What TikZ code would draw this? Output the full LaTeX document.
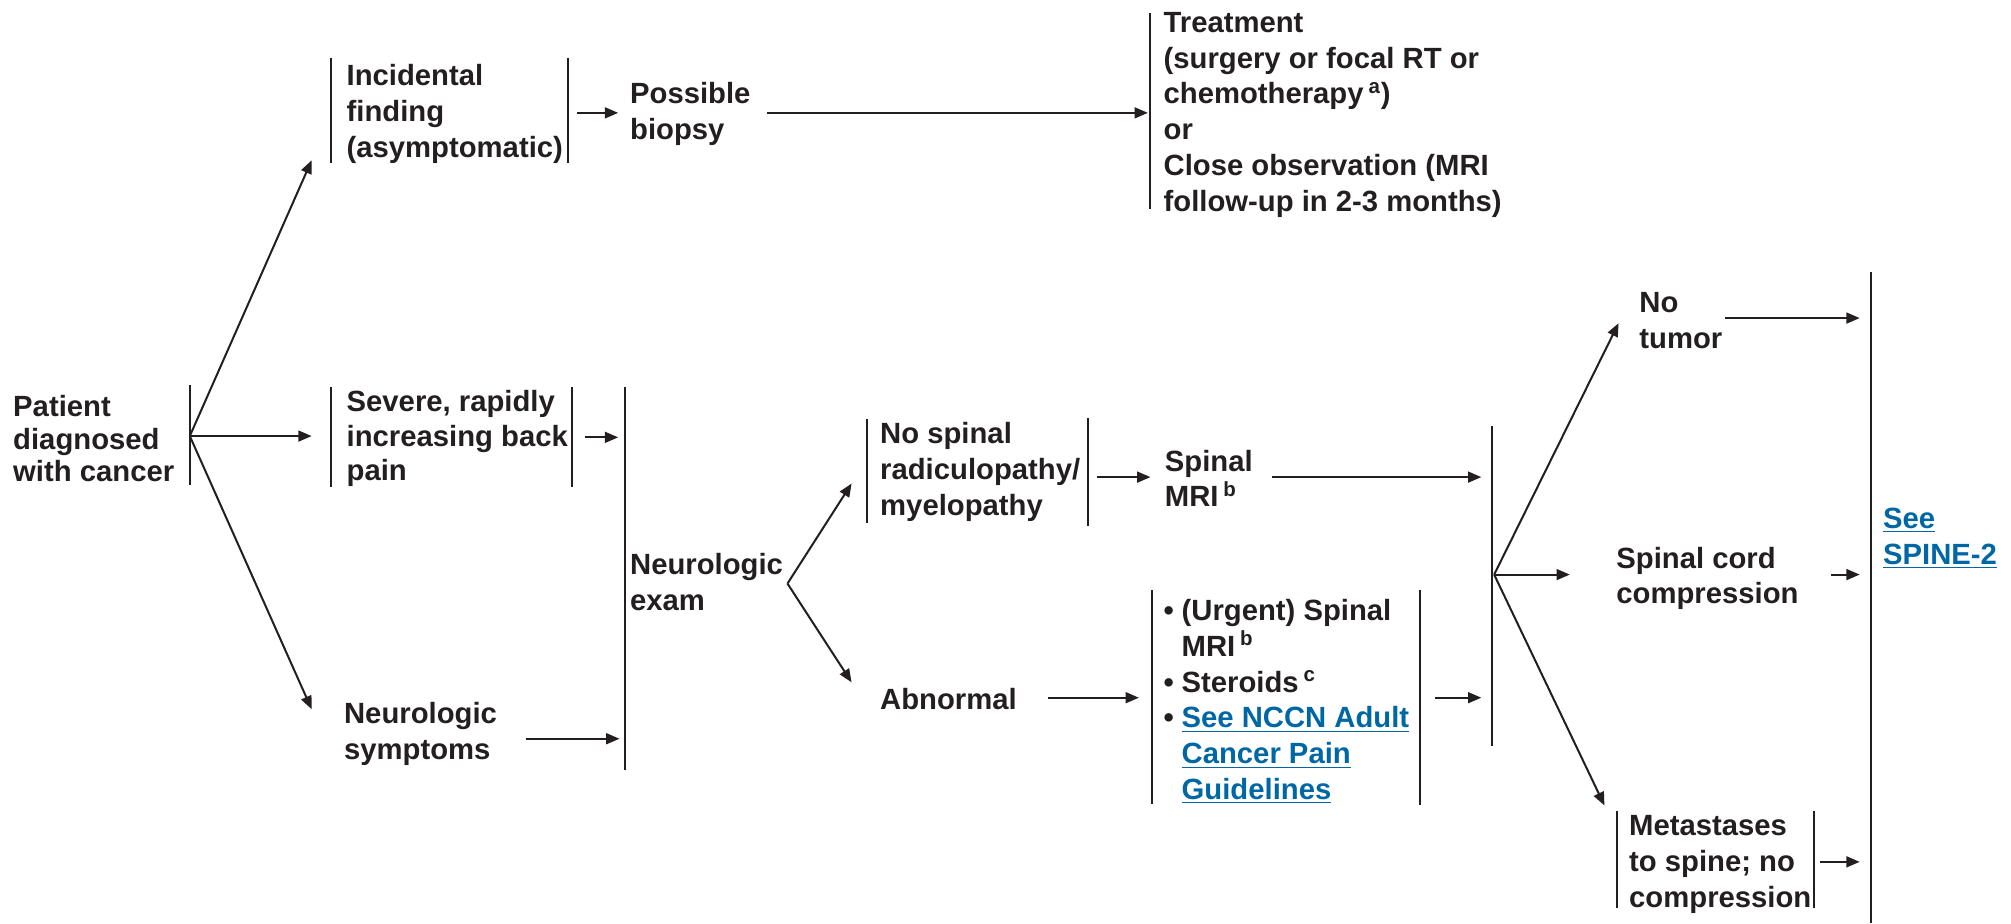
\documentclass[tikz,border=0pt]{standalone}
\usepackage{fontspec}
\setmainfont{Liberation Sans}
\usetikzlibrary{arrows.meta}
\definecolor{ink}{HTML}{231F20}
\definecolor{nccnblue}{RGB}{0,103,165}
\newcommand{\lnk}[1]{\textcolor{nccnblue}{\underline{#1}}}
\newcommand{\bul}{\makebox[9pt][l]{\textbullet}}
\newcommand{\ind}{\hspace*{9pt}}
\begin{document}
\begin{tikzpicture}[x=0.64pt,y=-0.64pt,
  txt/.style={anchor=west,align=left,inner sep=0pt,text=ink,
    font=\bfseries\fontsize{14.6pt}{17.9pt}\selectfont},
  bar/.style={draw=ink,line width=1pt},
  arr/.style={draw=ink,line width=1pt,-{Triangle[length=6.6pt,width=5.4pt]}}]
\useasboundingbox (0,0) rectangle (1568,720);

% ---- text nodes
\node[txt,font=\bfseries\fontsize{14.6pt}{16.4pt}\selectfont] (patient) at (10,342) {Patient\\diagnosed\\with cancer};
\node[txt] (inc) at (270,89) {Incidental\\finding\\(asymptomatic)};
\node[txt] (biopsy) at (491,89) {Possible\\biopsy};
\node[txt] (treat) at (907,89.5) {Treatment\\(surgery or focal RT or\\chemotherapy\,\textsuperscript{a})\\or\\Close observation (MRI\\follow-up in 2-3 months)};
\node[txt,font=\bfseries\fontsize{14.6pt}{17.2pt}\selectfont] (severe) at (270,342) {Severe, rapidly\\increasing back\\pain};
\node[txt] (neurosym) at (268,572) {Neurologic\\symptoms};
\node[txt] (exam) at (491,454) {Neurologic\\exam};
\node[txt] (nospinal) at (686,368) {No spinal\\radiculopathy/\\myelopathy};
\node[txt] (mri) at (908,373) {Spinal\\MRI\,\textsuperscript{b}};
\node[txt] (abnormal) at (686,545) {Abnormal};
\node[txt] (urgent) at (907,547) {\bul(Urgent) Spinal\\\ind MRI\,\textsuperscript{b}\\\bul Steroids\,\textsuperscript{c}\\\bul\lnk{See NCCN Adult}\\\ind\lnk{Cancer Pain}\\\ind\lnk{Guidelines}};
\node[txt] (notumor) at (1278,250) {No\\tumor};
\node[txt] (scc) at (1260,451) {Spinal cord\\compression};
\node[txt] (meta) at (1270,674) {Metastases\\to spine; no\\compression};
\node[txt] (spine2) at (1468,420) {\lnk{See}\\\lnk{SPINE-2}};

% ---- bars
\draw[bar] (148,300) -- (148,378);
\draw[bar] (258,45) -- (258,127);
\draw[bar] (443,45) -- (443,127);
\draw[bar] (258,302) -- (258,380);
\draw[bar] (446,302) -- (446,380);
\draw[bar] (897,10) -- (897,163);
\draw[bar] (487,302) -- (487,600);
\draw[bar] (676,327) -- (676,408);
\draw[bar] (848,326) -- (848,410);
\draw[bar] (898,460) -- (898,627);
\draw[bar] (1107,460) -- (1107,628);
\draw[bar] (1163,332) -- (1163,582);
\draw[bar] (1261,632) -- (1261,708);
\draw[bar] (1414,632) -- (1414,708);
\draw[bar] (1459,212) -- (1459,720);

% ---- connector end points
\coordinate (pO) at (148,340);
\coordinate (incIn) at (243,125);
\coordinate (sevIn) at (243,340);
\coordinate (symIn) at (243,553);
\coordinate (incOut) at (450,88);
\coordinate (bioIn) at (482,88);
\coordinate (bioOut) at (598,88);
\coordinate (treatIn) at (895,88);
\coordinate (sevOut) at (456,341);
\coordinate (examIn1) at (482,341);
\coordinate (symOut) at (410,576);
\coordinate (examIn2) at (483,576);
\coordinate (examOut) at (614,455);
\coordinate (nsIn) at (664,377);
\coordinate (abIn) at (664,532);
\coordinate (nsOut) at (855,372);
\coordinate (mriIn) at (897,372);
\coordinate (mriOut) at (992,372);
\coordinate (midIn1) at (1155,372);
\coordinate (abOut) at (817,544);
\coordinate (urgIn) at (888,544);
\coordinate (urgOut) at (1119,544);
\coordinate (midIn2) at (1155,544);
\coordinate (midOut) at (1165,448);
\coordinate (ntIn) at (1262,252);
\coordinate (sccIn) at (1224,448);
\coordinate (metaIn) at (1251,628);
\coordinate (ntOut) at (1345,248);
\coordinate (finIn1) at (1450,248);
\coordinate (sccOut) at (1428,448);
\coordinate (finIn2) at (1450,448);
\coordinate (metaOut) at (1419,672);
\coordinate (finIn3) at (1450,672);

% ---- connectors
\draw[arr] (pO) -- (incIn);
\draw[arr] (pO) -- (sevIn);
\draw[arr] (pO) -- (symIn);
\draw[arr] (incOut) -- (bioIn);
\draw[arr] (bioOut) -- (treatIn);
\draw[arr] (sevOut) -- (examIn1);
\draw[arr] (symOut) -- (examIn2);
\draw[arr] (examOut) -- (nsIn);
\draw[arr] (examOut) -- (abIn);
\draw[arr] (nsOut) -- (mriIn);
\draw[arr] (mriOut) -- (midIn1);
\draw[arr] (abOut) -- (urgIn);
\draw[arr] (urgOut) -- (midIn2);
\draw[arr] (midOut) -- (ntIn);
\draw[arr] (midOut) -- (sccIn);
\draw[arr] (midOut) -- (metaIn);
\draw[arr] (ntOut) -- (finIn1);
\draw[arr] (sccOut) -- (finIn2);
\draw[arr] (metaOut) -- (finIn3);
\end{tikzpicture}
\end{document}
